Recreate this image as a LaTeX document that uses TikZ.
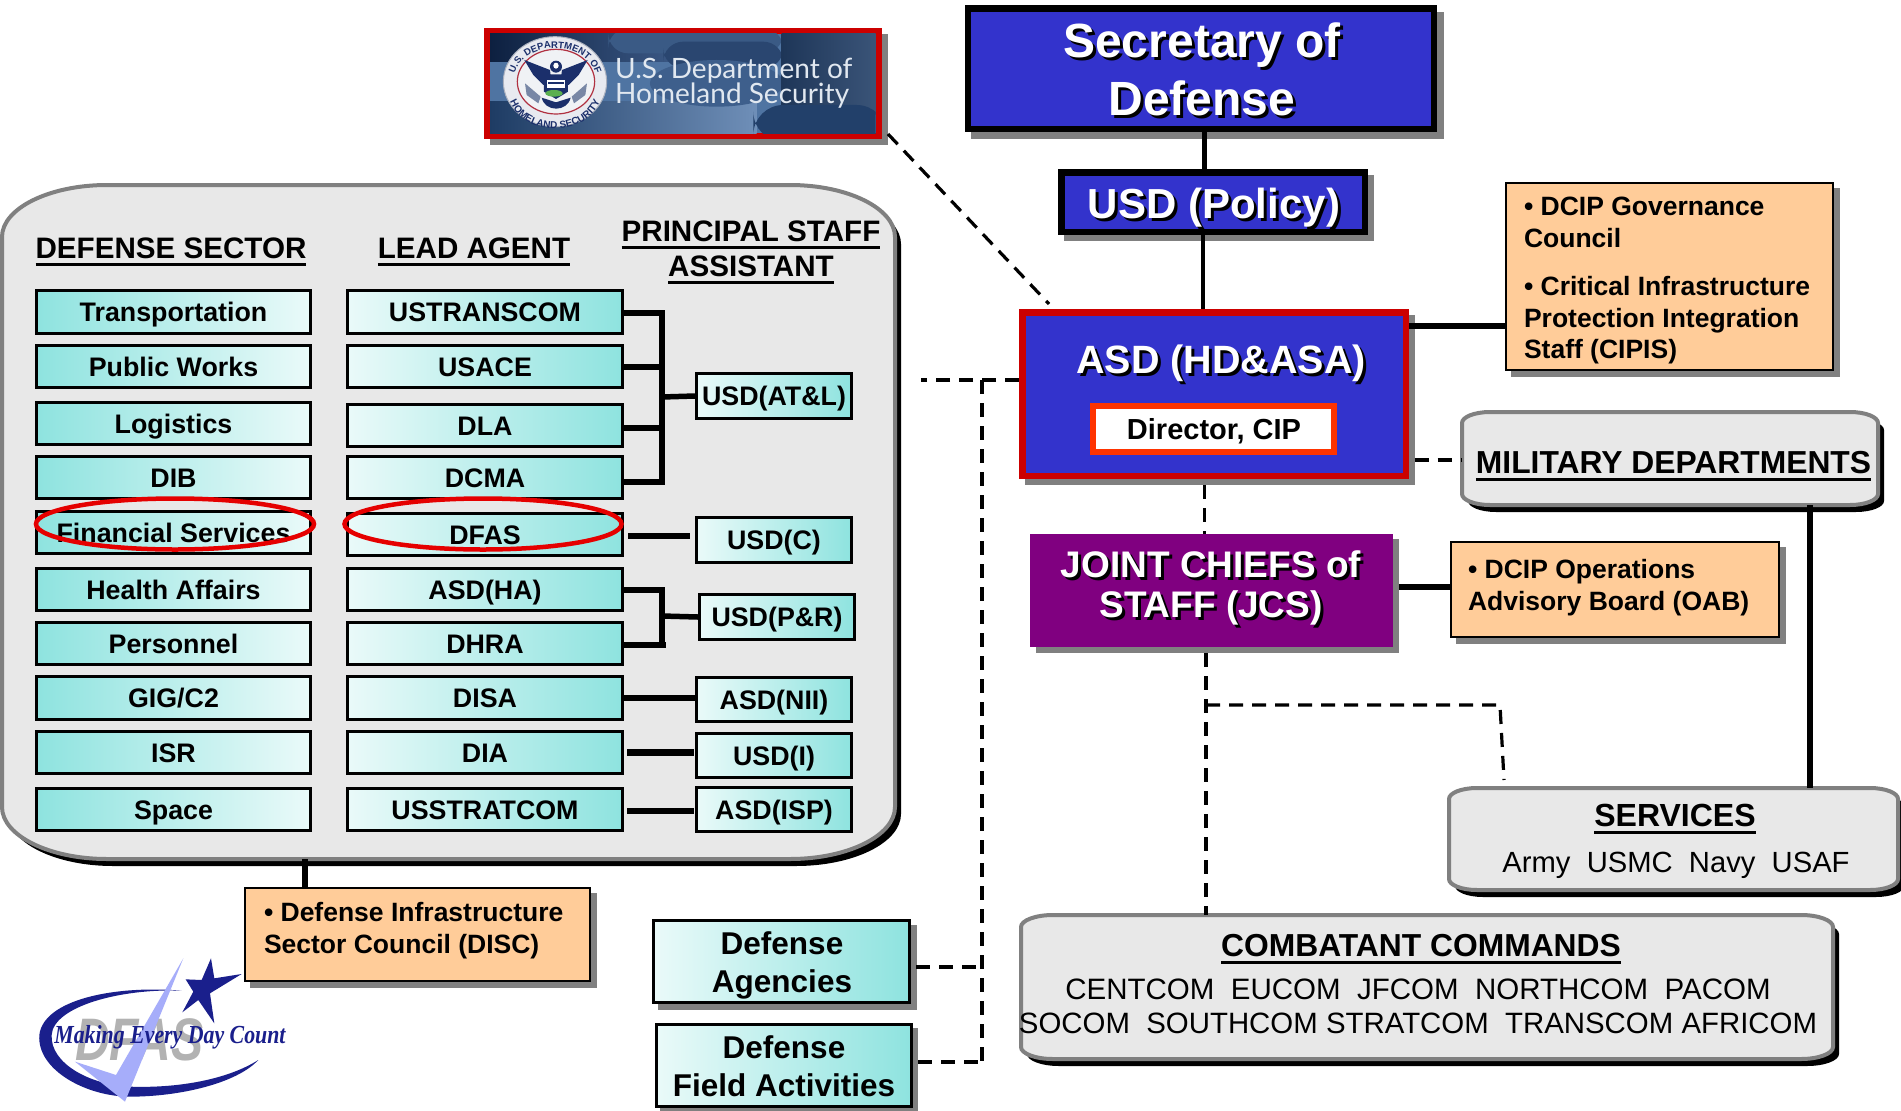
\documentclass[tikz,border=0pt]{standalone}
\usepackage{fontspec}
\setmainfont{Liberation Sans}
\newfontfamily\serifdhs{Liberation Serif}
\newfontfamily\lato{Lato}
\usetikzlibrary{shapes.geometric,decorations.text}
\definecolor{tealc}{HTML}{8EE3DF}
\definecolor{lightc}{HTML}{EAFAF9}
\definecolor{orangec}{HTML}{FFCC99}
\definecolor{bluec}{HTML}{3333CC}
\definecolor{redc}{HTML}{CC0000}
\definecolor{purplec}{HTML}{800080}
\definecolor{graylight}{HTML}{E8E8E8}
\definecolor{grayedge}{HTML}{808080}
\definecolor{navyc}{HTML}{1A1F8C}
\definecolor{navys}{HTML}{1B2F6B}
\newcommand\ulbar[1]{\setbox0=\hbox{#1}\rlap{\rule[-7.5pt]{\wd0}{3pt}}\box0}
\newcommand\shtxt[2][3]{\rlap{\kern#1pt\raisebox{-#1pt}{\color{black}#2}}#2}
\newcommand\ctxt[3]{\pgfmathsetmacro\dxx{#1-\bxcx}\pgfmathsetmacro\dyy{\bxcy-(#2)}\makebox[0pt][l]{\kern\dxx pt\makebox[0pt][c]{\raisebox{\dyy pt}[0pt][0pt]{#3}}}}
\newcommand\ltxt[3]{\pgfmathsetmacro\dxx{#1-\bxcx}\pgfmathsetmacro\dyy{\bxcy-(#2)}\makebox[0pt][l]{\kern\dxx pt\raisebox{\dyy pt}[0pt][0pt]{#3}}}
\newcommand\mtxt[1]{\ctxt{\bxcx}{\bxcy+9.5}{#1}}
\newcommand\bxx[8][6]{\pgfmathsetmacro\bxcx{(#3+#5)/2}\pgfmathsetmacro\bxcy{(#4+#6)/2}%
 \fill[boxshade] ({#3+#1},{#4+#1}) rectangle ({#5+#1},{#6+#1});
 \node[#7,minimum width={#5-#3-\pgflinewidth},minimum height={#6-#4-\pgflinewidth}] (#2) at (\bxcx,\bxcy) {#8};}
\newcommand\rrpath[6]{({#1+#5},#2) -- ({#3-#5},#2) .. controls ({#3-.45*#5},#2) and (#3,{#2+.45*#6}) .. (#3,{#2+#6}) -- (#3,{#4-#6}) .. controls (#3,{#4-.45*#6}) and ({#3-.45*#5},#4) .. ({#3-#5},#4) -- ({#1+#5},#4) .. controls ({#1+.45*#5},#4) and (#1,{#4-.45*#6}) .. (#1,{#4-#6}) -- (#1,{#2+#6}) .. controls (#1,{#2+.45*#6}) and ({#1+.45*#5},#2) .. ({#1+#5},#2) -- cycle}
\newcommand\gbx[8]{\pgfmathsetmacro\bxcx{(#2+#4)/2}\pgfmathsetmacro\bxcy{(#3+#5)/2}%
 \fill[black,shift={(6,7)}] \rrpath{#2}{#3}{#4}{#5}{#6}{#7};
 \path[grayfill] \rrpath{#2}{#3}{#4}{#5}{#6}{#7};
 \node[inner sep=0pt,minimum width={#4-#2},minimum height={#5-#3}] (#1) at (\bxcx,\bxcy) {#8};}
\tikzset{
 boxshade/.style={fill=grayedge},
 grayfill/.style={fill=graylight,draw=grayedge,line width=4pt},
 basebox/.style={inner sep=0pt,draw=black,line width=3pt},
 small/.style={font=\fontsize{26.8}{30}\selectfont\bfseries},
 secbox/.style={basebox,small,left color=tealc,right color=lightc},
 agentbox/.style={basebox,small,left color=lightc,right color=tealc},
 orangebox/.style={inner sep=0pt,draw=black,line width=2pt,fill=orangec,font=\fontsize{26.5}{30}\selectfont\bfseries},
 bluebox/.style={inner sep=0pt,draw=black,line width=6.5pt,fill=bluec,text=white,font=\fontsize{48}{50}\selectfont\bfseries},
 redbox/.style={inner sep=0pt,draw=redc,line width=6.5pt,fill=bluec,text=white,font=\fontsize{39.5}{42}\selectfont\bfseries},
 header/.style={anchor=base,inner sep=0pt,font=\fontsize{29.6}{30}\selectfont\bfseries},
 link/.style={draw=black,line width=5.5pt},
 dashln/.style={draw=black,line width=3.2pt,dash pattern=on 14pt off 9pt},
 ring/.style={ellipse,draw=red!90!black,line width=4.5pt,inner sep=0pt,minimum width=#1,minimum height=51pt},
 dhstext/.style={anchor=base west,inner sep=0pt,text={rgb,255:red,225;green,232;blue,240},font=\lato\fontsize{28}{30}\selectfont},
}
\begin{document}
\begin{tikzpicture}[x=1pt,y=-1pt]
\useasboundingbox (0,0) rectangle (1901,1111);
\fill[white] (0,0) rectangle (1901,1111);
% ---------- left panel
\gbx{panel}{2}{185}{895}{859}{105}{52}{}
\node[header] (h1) at (171,258) {\ulbar{DEFENSE SECTOR}};
\node[header] (h2) at (474,258) {\ulbar{LEAD AGENT}};
\node[header] (h3a) at (751,241) {\ulbar{PRINCIPAL STAFF}};
\node[header] (h3b) at (751,276) {\ulbar{ASSISTANT}};
% sector column
\bxx[0]{s1}{35}{289}{312}{335}{secbox}{\mtxt{Transportation}}
\bxx[0]{s2}{35}{344}{312}{389}{secbox}{\mtxt{Public Works}}
\bxx[0]{s3}{35}{401}{312}{446}{secbox}{\mtxt{Logistics}}
\bxx[0]{s4}{35}{455}{312}{500}{secbox}{\mtxt{DIB}}
\bxx[0]{s5}{35}{510}{312}{555}{secbox}{\mtxt{Financial Services}}
\bxx[0]{s6}{35}{567}{312}{612}{secbox}{\mtxt{Health Affairs}}
\bxx[0]{s7}{35}{621}{312}{666}{secbox}{\mtxt{Personnel}}
\bxx[0]{s8}{35}{675}{312}{721}{secbox}{\mtxt{GIG/C2}}
\bxx[0]{s9}{35}{730}{312}{775}{secbox}{\mtxt{ISR}}
\bxx[0]{s10}{35}{787}{312}{832}{secbox}{\mtxt{Space}}
% agent column
\bxx[0]{a1}{346}{289}{624}{335}{agentbox}{\mtxt{USTRANSCOM}}
\bxx[0]{a2}{346}{344}{624}{389}{agentbox}{\mtxt{USACE}}
\bxx[0]{a3}{346}{403}{624}{448}{agentbox}{\mtxt{DLA}}
\bxx[0]{a4}{346}{455}{624}{500}{agentbox}{\mtxt{DCMA}}
\bxx[0]{a5}{346}{512}{624}{557}{agentbox}{\mtxt{DFAS}}
\bxx[0]{a6}{346}{567}{624}{612}{agentbox}{\mtxt{ASD(HA)}}
\bxx[0]{a7}{346}{621}{624}{666}{agentbox}{\mtxt{DHRA}}
\bxx[0]{a8}{346}{675}{624}{721}{agentbox}{\mtxt{DISA}}
\bxx[0]{a9}{346}{730}{624}{775}{agentbox}{\mtxt{DIA}}
\bxx[0]{a10}{346}{787}{624}{832}{agentbox}{\mtxt{USSTRATCOM}}
% PSA column
\bxx[0]{p1}{695}{372}{853}{420}{agentbox}{\mtxt{USD(AT\&L)}}
\bxx[0]{p2}{695}{516}{853}{564}{agentbox}{\mtxt{USD(C)}}
\bxx[0]{p3}{698}{593}{856}{641}{agentbox}{\mtxt{USD(P\&R)}}
\bxx[0]{p4}{695}{676}{853}{723}{agentbox}{\mtxt{ASD(NII)}}
\bxx[0]{p5}{695}{732}{853}{779}{agentbox}{\mtxt{USD(I)}}
\bxx[0]{p6}{695}{786}{853}{833}{agentbox}{\mtxt{ASD(ISP)}}
% connectors in the panel
\coordinate (busa) at (662,397);
\draw[link] ([yshift=-1pt]a1.east) -- ([yshift=-1pt]a1.east -| busa) -- ([yshift=-4.5pt]a4.east -| busa) -- ([yshift=-4.5pt]a4.east);
\draw[link] ([yshift=-.5pt]a2.east) -- ([yshift=-.5pt]a2.east -| busa);
\draw[link] ([yshift=-2.5pt]a3.east) -- ([yshift=-2.5pt]a3.east -| busa);
\draw[link] (busa) -- (p1.west);
\draw[link] ([xshift=4pt,yshift=-1.5pt]a5.east) -- ([xshift=-5pt,yshift=-1.5pt]a5.east -| p2.west);
\coordinate (busp) at (662,616);
\draw[link] ([yshift=-.5pt]a6.east) -- ([yshift=-.5pt]a6.east -| busp) -- ([yshift=-1pt]a7.east -| busp);
\draw[link] ([yshift=-1.5pt]a7.east) -- ([xshift=4pt,yshift=-1.5pt]a7.east -| busp);
\draw[link] (busp) -- (p3.west);
\draw[link] (a8.east) -- (a8.east -| p4.west);
\draw[link,line width=6.5pt] ([xshift=3pt]a9.east) -- ([xshift=-1pt]a9.east -| p5.west);
\draw[link,line width=6.5pt] ([xshift=3pt,yshift=-1.5pt]a10.east) -- ([xshift=-1pt,yshift=-1.5pt]a10.east -| p6.west);
% red ovals
\node[ring=278pt] (o1) at (175,524) {};
\node[ring=277pt] (o2) at (483,524) {};
% ---------- top right
\bxx[6.5]{sec}{964.5}{5}{1437}{132}{bluebox}{\ctxt{1202}{57}{\shtxt{Secretary of}}\ctxt{1202}{115}{\shtxt{Defense}}}
\bxx[5.5]{usd}{1058}{169}{1368}{235}{bluebox,font=\fontsize{42}{46}\selectfont\bfseries}{\ctxt{1214}{218}{\shtxt{USD (Policy)}}}
\bxx[5.5]{asd}{1019}{309}{1409}{479}{redbox}{\ctxt{1221}{373}{\shtxt{ASD (HD\&ASA)}}}
\bxx[0]{dir}{1090}{403}{1337}{455}{inner sep=0pt,draw={rgb,255:red,255;green,51;blue,0},line width=6pt,fill=white,font=\fontsize{29}{30}\selectfont\bfseries}{\ctxt{1214}{439}{Director, CIP}}
\bxx[5.5]{cipis}{1505}{182}{1834}{371}{orangebox}{\ltxt{1524}{215}{• DCIP Governance}\ltxt{1524}{247}{Council}\ltxt{1524}{295}{• Critical Infrastructure}\ltxt{1524}{327}{Protection Integration}\ltxt{1524}{358}{Staff (CIPIS)}}
\gbx{mil}{1462}{412}{1878}{505}{28}{11}{\ctxt{1673.5}{473}{\fontsize{31.8}{32}\selectfont\bfseries\ulbar{MILITARY DEPARTMENTS}}}
\bxx[5.5]{jcs}{1030}{533.5}{1393}{647}{inner sep=0pt,draw=none,line width=0pt,fill=purplec,text=white,font=\fontsize{37}{40}\selectfont\bfseries}{\ctxt{1211}{577}{\shtxt{JOINT CHIEFS of}}\ctxt{1211}{617}{\shtxt{STAFF (JCS)}}}
\bxx[6]{oab}{1450}{541}{1780}{638}{orangebox}{\ltxt{1468}{578}{• DCIP Operations}\ltxt{1468}{610}{Advisory Board (OAB)}}
\gbx{srv}{1449}{788}{1898}{890}{28}{11}{\ctxt{1675}{826}{\fontsize{32}{32}\selectfont\bfseries\ulbar{SERVICES}}\ctxt{1676}{872}{\fontsize{29.2}{30}\selectfont Army\ \ USMC\ \ Navy\ \ USAF}}
\gbx{com}{1021}{915}{1833}{1059}{32}{12}{\ctxt{1421}{956}{\fontsize{31.8}{32}\selectfont\bfseries\ulbar{COMBATANT COMMANDS}}\ctxt{1418}{999}{\fontsize{29.5}{30}\selectfont CENTCOM\ \ EUCOM\ \ JFCOM\ \ NORTHCOM\ \ PACOM}\ctxt{1418}{1033}{\fontsize{29.4}{30}\selectfont SOCOM\ \ SOUTHCOM STRATCOM\ \ TRANSCOM AFRICOM}}
% ---------- lower left boxes
\bxx[6]{disc}{244}{887}{591}{982}{orangebox}{\ltxt{264}{921}{• Defense Infrastructure}\ltxt{264}{953}{Sector Council (DISC)}}
\bxx[5.5]{agen}{652}{919}{911}{1004}{agentbox,font=\fontsize{31.5}{34}\selectfont\bfseries}{\ctxt{782}{954}{Defense}\ctxt{782}{992}{Agencies}}
\bxx[5]{field}{655}{1023}{913}{1108}{agentbox,font=\fontsize{31.5}{34}\selectfont\bfseries}{\ctxt{784}{1058}{Defense}\ctxt{784}{1096}{Field Activities}}
% ---------- DHS banner
\bxx[5.5]{dhs}{484}{28}{882}{139}{inner sep=0pt,draw=redc,line width=6pt,fill={rgb,255:red,79;green,116;blue,162}}{}
\begin{scope}[shift={(480,25)},x=.3333pt,y=-.3333pt]
 \clip (30,25) rectangle (1187,325);
 \shade[left color={rgb,255:red,13;green,32;blue,64},right color={rgb,255:red,60;green,90;blue,135}] (30,25) rectangle (600,110);
 \shade[left color={rgb,255:red,30;green,60;blue,100},right color={rgb,255:red,111;green,143;blue,184}] (30,230) rectangle (830,325);
 \fill[rounded corners=20pt,fill={rgb,255:red,58;green,90;blue,133}] (385,10) rectangle (910,85);
 \fill[rounded corners=20pt,fill={rgb,255:red,42;green,70;blue,112}] (550,50) rectangle (910,130);
 \fill[fill={rgb,255:red,62;green,95;blue,140}] (710,175) ellipse [x radius=200,y radius=70];
 \shade[left color={rgb,255:red,30;green,54;blue,88},right color={rgb,255:red,58;green,84;blue,120}] (905,25) rectangle (1187,270);
 \fill[rounded corners=30pt,fill={rgb,255:red,34;green,64;blue,106}] (820,240) rectangle (1220,350);
 % seal
 \fill[fill={rgb,255:red,232;green,234;blue,240},draw={rgb,255:red,170;green,176;blue,190},line width=1pt] (225,170) ellipse [x radius=155,y radius=135];
 \draw[draw={rgb,255:red,176;green,48;blue,64},line width=1.2pt,fill={rgb,255:red,240;green,242;blue,245}] (228,170) ellipse [x radius=116,y radius=97];
 \fill[navys] (133,105) -- (210,135) -- (215,175) -- (190,180) -- (160,150) -- cycle;
 \fill[navys] (323,105) -- (246,135) -- (241,175) -- (266,180) -- (296,150) -- cycle;
 \fill[navys] (228,125) ellipse [x radius=18,y radius=18];
 \fill[white] (228,122) ellipse [x radius=8,y radius=9];
 \fill[navys] (192,148) -- (264,148) -- (264,200) -- (228,222) -- (192,200) -- cycle;
 \fill[white] (200,165) rectangle (256,190);
 \fill[navys] (205,172) rectangle (252,177);
 \fill[fill={rgb,255:red,91;green,175;blue,80}] (222,205) ellipse [x radius=26,y radius=10];
 \fill[navys] (185,218) .. controls (195,262) and (262,262) .. (272,218) -- (228,232) -- cycle;
 \fill[fill={rgb,255:red,120;green,135;blue,165}] (135,175) -- (182,215) -- (175,235) -- (140,210) -- cycle;
 \fill[fill={rgb,255:red,120;green,135;blue,165}] (321,175) -- (275,215) -- (282,235) -- (316,210) -- cycle;
\end{scope}
\path[decorate,decoration={text along path,text align=center,text={|\fontsize{9.5}{10}\selectfont\bfseries\color{navys}|U.S. DEPARTMENT OF}}] (513,84) .. controls (513,36) and (597,36) .. (597,84);
\path[decorate,decoration={text along path,text align=center,text={|\fontsize{10}{10}\selectfont\bfseries\color{navys}|HOMELAND SECURITY}}] (507,88) .. controls (510,142) and (600,142) .. (603,88);
\node[dhstext] (dhs1) at (615,78) {U.S. Department of};
\node[dhstext] (dhs2) at (615,103) {Homeland Security};
% ---------- DFAS logo
\begin{scope}[shift={(30,950)},x=.3333pt,y=-.3333pt]
 \node[anchor=base,inner sep=0pt,text={rgb,255:red,178;green,178;blue,178},font=\fontsize{60}{60}\selectfont\bfseries\itshape,xscale=.8,transform shape] (dfas) at (328,330) {DFAS};
 \fill[navyc] (455,122) .. controls (250,105) and (40,150) .. (28,255) .. controls (20,360) and (170,440) .. (300,440) .. controls (450,440) and (620,400) .. (685,330) .. controls (590,390) and (440,415) .. (300,410) .. controls (180,405) and (60,340) .. (65,255) .. controls (70,170) and (270,115) .. (455,122) -- cycle;
 \fill[fill={rgb,255:red,166;green,173;blue,250}] (460,25) -- (285,455) -- (135,335) -- (258,375) -- cycle;
 \fill[navyc] (543,25) -- (553,85) -- (635,72) -- (540,130) -- (553,220) -- (505,150) -- (457,187) -- (490,125) -- (467,88) -- (515,90) -- cycle;
 \node[anchor=base,inner sep=0pt,text=navyc,font=\serifdhs\fontsize{26}{26}\selectfont\itshape\bfseries,xscale=.84,transform shape] (mk) at (420,280) {Making Every Day Count};
\end{scope}
% ---------- connectors on the right
\coordinate (sp1) at (1204.5,150);
\coordinate (sp2) at (1203,270);
\draw[link] (sp1 |- sec.south) -- (sp1 |- usd.north);
\draw[link,line width=4.5pt] (sp2 |- usd.south) -- (sp2 |- asd.north);
\draw[link,line width=6pt] ([yshift=68pt]asd.east) -- ([yshift=68pt]asd.east -| cipis.west);
\draw[link,line width=6pt] ([xshift=5.5pt,yshift=3pt]jcs.east) -- ([yshift=3pt]jcs.east -| oab.west);
\coordinate (sp3) at (1810,650);
\draw[link] (sp3 |- mil.south) -- (sp3 |- srv.north);
\draw[link,line width=6pt] ([xshift=-112.5pt]disc.north) -- ([xshift=-112.5pt]disc.north |- panel.south);
\draw[dashln] ([xshift=5.5pt,yshift=-66pt]asd.east) -- ([yshift=-66pt]asd.east -| mil.west);
\draw[dashln] ([xshift=-9.5pt,yshift=-6pt]asd.south) -- ([xshift=-9.5pt]asd.south |- jcs.north);
\coordinate (jtop) at (1206,653);
\coordinate (jbr) at (1206,705);
\coordinate (jcor) at (1500,705);
\coordinate (jend) at (1504,780);
\draw[dashln] (jtop) -- (jtop |- com.north);
\draw[dashln] (jbr) -- (jcor) -- (jend);
\coordinate (dk) at (921,380);
\coordinate (dj) at (982,380);
\draw[dashln] (asd.west |- dk) -- (dk);
\draw[dashln] (dj) -- (dj |- field.east);
\draw[dashln] ([xshift=5pt,yshift=-5.5pt]agen.east) -- ([yshift=-5.5pt]agen.east -| dj);
\draw[dashln] ([xshift=5pt,yshift=3.5pt]field.east) -- ([yshift=3.5pt]field.east -| dj);
\draw[dashln] (dhs.south east) ++(6,-5) -- ([xshift=30pt,yshift=5pt]asd.north west);
\end{tikzpicture}
\end{document}
